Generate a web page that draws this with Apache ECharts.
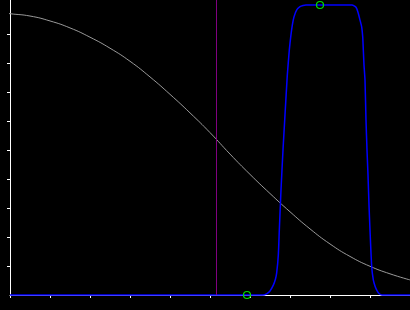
<!DOCTYPE html>
<html>
<head>
<meta charset="utf-8">
<script src="https://cdn.jsdelivr.net/npm/echarts@6/dist/echarts.min.js"></script>
<style>
html,body{margin:0;padding:0;background:#000;}
#c{width:410px;height:310px;}
</style>
</head>
<body>
<div id="c"></div>
<script>
// Gray decreasing curve [x, y]
var grayCurve = [
  [-0.25, 0.975], [0, 0.970], [0.5, 0.962], [1.0, 0.945], [1.5, 0.921],
  [2.0, 0.889], [2.5, 0.851], [3.0, 0.806], [3.5, 0.752], [4.0, 0.692],
  [4.5, 0.628], [5.0, 0.560], [5.5, 0.486], [6.0, 0.416], [6.5, 0.350],
  [7.0, 0.287], [7.5, 0.228], [8.0, 0.176], [8.5, 0.133], [9.0, 0.099],
  [9.5, 0.073], [10.0, 0.052]
];
// Blue plateau curve [x, y]
var blueCurve = [
  [0, 0], [6.325, 0], [6.425, 0.005], [6.5, 0.014], [6.583, 0.034], [6.6375, 0.055],
  [6.667, 0.076], [6.708, 0.138], [6.733, 0.224], [6.775, 0.362], [6.825, 0.5],
  [6.875, 0.621], [6.933, 0.759], [6.958, 0.803], [6.983, 0.845], [7.018, 0.89],
  [7.058, 0.931], [7.1, 0.959], [7.168, 0.983], [7.25, 0.994], [7.325, 0.998],
  [7.4, 1.0], [7.75, 1.0], [8.55, 1.0], [8.65, 0.992], [8.708, 0.971], [8.75, 0.948],
  [8.793, 0.924], [8.818, 0.89], [8.833, 0.845], [8.85, 0.793], [8.875, 0.741],
  [8.9, 0.603], [8.925, 0.5], [8.95, 0.414], [8.975, 0.31], [9.0, 0.224],
  [9.043, 0.097], [9.083, 0.052], [9.125, 0.031], [9.168, 0.017], [9.225, 0.005],
  [9.3, 0], [10, 0]
];
// Marker points
var markerPoints = [[5.925, 0], [7.75, 1.0]];
// Vertical line position
var verticalLineX = 5.15;
// Axis ticks
var xTicks = [0, 1, 2, 3, 4, 5, 6, 7, 8, 9, 10];
var yTicks = [0.1, 0.2, 0.3, 0.4, 0.5, 0.6, 0.7, 0.8, 0.9];

var chart = echarts.init(document.getElementById('c'), null, {renderer: 'canvas'});
chart.setOption({
  backgroundColor: '#000',
  animation: false,
  grid: {left: 10, right: 0, top: 0, bottom: 15, containLabel: false},
  xAxis: {
    type: 'value', min: 0, max: 10, interval: 1,
    splitLine: {show: false},
    axisLine: {show: true, onZero: false, lineStyle: {color: '#fff', width: 1}},
    axisTick: {show: true, length: 3, inside: false, customValues: xTicks, lineStyle: {color: '#fff', width: 1}},
    axisLabel: {show: false}
  },
  yAxis: {
    type: 'value', min: 0, max: 295 / 290,
    splitLine: {show: false},
    axisLine: {show: true, onZero: false, lineStyle: {color: '#fff', width: 1}},
    axisTick: {show: true, length: 3, inside: false, customValues: yTicks, lineStyle: {color: '#fff', width: 1}},
    axisLabel: {show: false}
  },
  series: [
    {
      type: 'line', data: grayCurve, smooth: true, showSymbol: false, clip: false,
      lineStyle: {color: '#9a9a9a', width: 1}, z: 3,
      markLine: {
        silent: true, symbol: 'none', label: {show: false},
        lineStyle: {color: '#800080', width: 1, type: 'solid'},
        data: [{xAxis: verticalLineX}]
      }
    },
    {
      type: 'line', data: blueCurve, smooth: 0.2, showSymbol: false, clip: false,
      lineStyle: {color: '#0000ff', width: 1.5}, z: 4
    },
    {
      type: 'scatter', data: markerPoints, symbol: 'circle', symbolSize: 7, clip: false,
      itemStyle: {color: 'rgba(0,0,0,0)', borderColor: '#00e000', borderWidth: 1.2, opacity: 1}, z: 5
    }
  ]
});
</script>
</body>
</html>
